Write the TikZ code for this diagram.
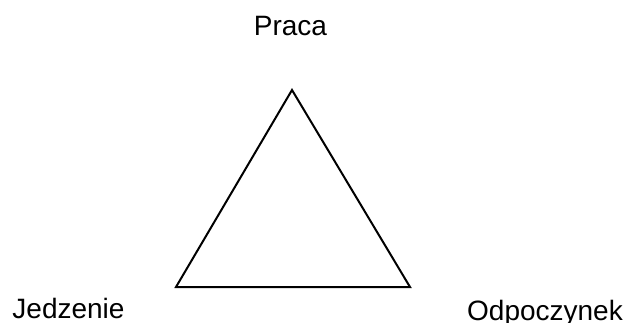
\documentclass[tikz,border=0pt]{standalone}
\usepackage{fontspec}
\setmainfont{Liberation Sans}
\begin{document}
\begin{tikzpicture}[x=1pt,y=-1pt,
  lbl/.style={font=\fontsize{28}{33}\selectfont, inner sep=0pt, anchor=base},
  edge/.style={line width=2pt, line join=miter}]
\useasboundingbox (0,0) rectangle (631,323);
\coordinate (top) at (292,90);
\coordinate (bl) at (176,287);
\coordinate (br) at (410,287);
\draw[edge] (top) -- (bl) -- (br) -- cycle;
\node[lbl] (praca) at (290.5,36) {Praca};
\node[lbl] (jedzenie) at (68.5,318) {Jedzenie};
\node[lbl] (odpoczynek) at (545,320) {Odpoczynek};
\end{tikzpicture}
\end{document}
